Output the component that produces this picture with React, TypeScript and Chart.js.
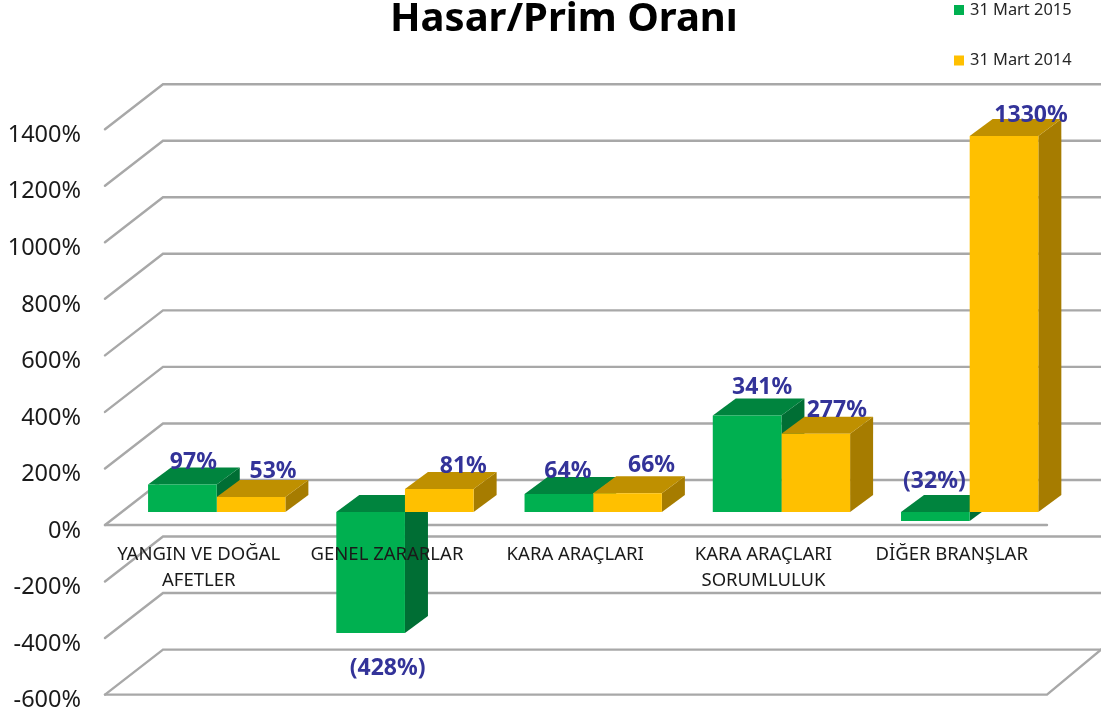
import React, { useEffect, useRef } from "react";
import { Chart, registerables } from "chart.js";

Chart.register(...registerables);

const categories = [
  ["YANGIN VE DOĞAL", "AFETLER"],
  "GENEL ZARARLAR",
  "KARA ARAÇLARI",
  ["KARA ARAÇLARI", "SORUMLULUK"],
  "DİĞER BRANŞLAR",
];
const march2015 = [97, -428, 64, 341, -32];
const march2014 = [53, 81, 66, 277, 1330];

const GREEN = { front: "#00B050", top: "#00843E", side: "#006E34" };
const AMBER = { front: "#FFC000", top: "#BF9000", side: "#A67C00" };
const INK = "#333399";
const FONT = '"Noto Sans", sans-serif';
const DEPTH_X = 23;
const DEPTH_Y = 17;
// Label nudges from each bar's end, per dataset then category.
const labelNudges = [
  [[11, -22], [17, 35], [9, -22], [15, -28], [-1, -40]],
  [[22, -26], [24, -23], [24, -28], [21, -23], [27, -21]],
];

const poly = (ctx: CanvasRenderingContext2D, pts: number[][], fill: string) => {
  ctx.beginPath();
  pts.forEach(([x, y], i) => (i ? ctx.lineTo(x, y) : ctx.moveTo(x, y)));
  ctx.closePath();
  ctx.fillStyle = fill;
  ctx.fill();
};

const walls3d = {
  id: "walls3d",
  afterLayout(chart: any) {
    chart.titleBlock.left = 64;
  },
  beforeDatasetsDraw(chart: any) {
    const { ctx } = chart;
    const y = chart.scales.y;
    const [frontL, backL, frontR, backR] = [105, 163, 1047, 1101];
    ctx.save();
    ctx.strokeStyle = "#A8A8A8";
    ctx.lineWidth = 2.4;
    ctx.lineCap = "round";
    y.ticks.forEach((t: any) => {
      const front = y.getPixelForValue(t.value) + 13;
      const back = front - 45;
      ctx.beginPath();
      ctx.moveTo(frontL, front);
      ctx.lineTo(backL, back);
      ctx.lineTo(backR, back);
      ctx.stroke();
      if (t.value === 0 || t.value === y.min) {
        ctx.beginPath();
        ctx.moveTo(frontL, front);
        ctx.lineTo(frontR, front);
        if (t.value === y.min) ctx.lineTo(backR, back);
        ctx.stroke();
      }
    });
    const palettes = [GREEN, AMBER];
    for (let j = 0; j < categories.length; j++) {
      chart.data.datasets.forEach((_: any, i: number) => {
        const bar = chart.getDatasetMeta(i).data[j];
        const l = bar.x - bar.width / 2;
        const r = bar.x + bar.width / 2;
        const hi = Math.min(bar.y, bar.base);
        const lo = Math.max(bar.y, bar.base);
        poly(ctx, [[r, hi], [r + DEPTH_X, hi - DEPTH_Y], [r + DEPTH_X, lo - DEPTH_Y], [r, lo]], palettes[i].side);
        poly(ctx, [[l, hi], [r, hi], [r + DEPTH_X, hi - DEPTH_Y], [l + DEPTH_X, hi - DEPTH_Y]], palettes[i].top);
      });
    }
    ctx.restore();
  },
  afterDraw(chart: any) {
    const { ctx } = chart;
    ctx.save();
    ctx.textBaseline = "middle";
    ctx.textAlign = "center";
    ctx.font = `bold 23px ${FONT}`;
    ctx.fillStyle = INK;
    chart.data.datasets.forEach((ds: any, i: number) => {
      chart.getDatasetMeta(i).data.forEach((bar: any, j: number) => {
        const v = ds.data[j];
        const text = v < 0 ? `(${-v}%)` : `${v}%`;
        ctx.fillText(text, bar.x + labelNudges[i][j][0], bar.y + labelNudges[i][j][1]);
      });
    });
    ctx.textAlign = "left";
    ctx.font = `16.4px ${FONT}`;
    chart.data.datasets.forEach((ds: any, i: number) => {
      const cy = 10 + i * 50.5;
      ctx.fillStyle = ds.backgroundColor;
      ctx.fillRect(954, cy - 5, 10, 10);
      ctx.fillStyle = "#262626";
      ctx.fillText(ds.label, 970, cy);
    });
    ctx.restore();
  },
};

export default function App() {
  const ref = useRef<HTMLCanvasElement>(null);
  useEffect(() => {
    const chart = new Chart(ref.current!, {
      type: "bar",
      data: {
        labels: categories as any,
        datasets: [
          { label: "31 Mart 2015", data: march2015, backgroundColor: GREEN.front, borderWidth: 0 },
          { label: "31 Mart 2014", data: march2014, backgroundColor: AMBER.front, borderWidth: 0 },
        ],
      },
      options: {
        animation: false,
        responsive: false,
        layout: { padding: { top: 0, left: 0, right: 37.2, bottom: 33.4 } },
        datasets: { bar: { categoryPercentage: 0.7295, barPercentage: 1 } },
        plugins: {
          legend: { display: false },
          tooltip: { enabled: false },
          title: {
            display: true,
            text: "Hasar/Prim Oranı",
            color: "#000000",
            font: { family: FONT, size: 40, weight: "bold", lineHeight: 1 },
            padding: { top: 0, bottom: 76.2 },
          },
        },
        scales: {
          x: {
            position: { y: 0 } as any,
            afterFit: (s: any) => { s.height = 0; },
            grid: { display: false },
            border: { display: false },
            ticks: {
              z: 1,
              autoSkip: false,
              maxRotation: 0,
              minRotation: 0,
              padding: 22,
              labelOffset: -18,
              color: "#1A1A1A",
              font: { family: FONT, size: 18.5, lineHeight: 1.41 },
            },
          },
          y: {
            min: -600,
            max: 1400,
            afterFit: (s: any) => {
              s.width = 122.6;
              s.paddingTop = 0;
              s.paddingBottom = 0;
            },
            grid: { display: false, drawTicks: false },
            border: { display: false },
            ticks: {
              stepSize: 200,
              padding: 41.6,
              labelOffset: 19,
              color: "#1A1A1A",
              font: { family: FONT, size: 23.5 },
              callback: (v: any) => `${v}%`,
            },
          },
        },
      },
      plugins: [walls3d],
    } as any);
    return () => chart.destroy();
  }, []);
  return (
    <div style={{ position: "fixed", left: 0, top: 0 }}>
      <canvas ref={ref} width={1101} height={715} style={{ display: "block" }} />
    </div>
  );
}
